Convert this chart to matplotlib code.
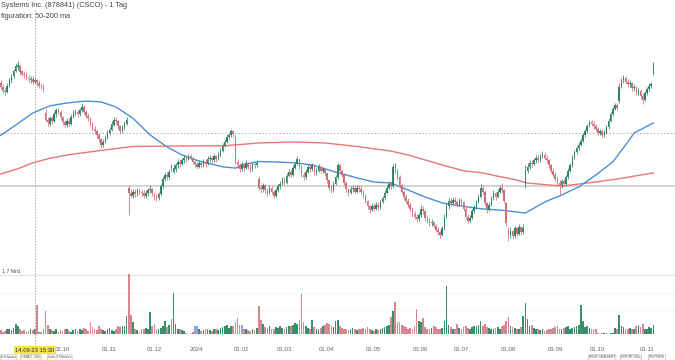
import matplotlib
matplotlib.use('Agg')
import matplotlib.pyplot as plt
import matplotlib.transforms as mtransforms
from matplotlib.lines import Line2D
import pandas as pd
import numpy as np

plt.rcParams['font.family'] = ['Liberation Sans', 'DejaVu Sans']

# ---------------- data ----------------
title_line1 = "Systems Inc. (878841) (CSCO) - 1 Tag"
title_line2 = "figuration: 50-200 ma"

start_date = "2023-08-23"
end_date = "2024-11-08"
holidays = ["2023-09-04", "2023-11-23", "2023-12-25", "2024-01-01", "2024-01-15",
            "2024-02-19", "2024-03-29", "2024-05-27", "2024-06-19", "2024-07-04",
            "2024-09-02"]

opens = [
    56.6, 56.3, 56.0, 55.9, 56.4, 56.8, 57.1, 57.5, 57.8, 57.9,
    57.5, 57.3, 57.2, 57.0, 56.8, 56.9, 56.7, 56.8, 56.6, 56.4,
    56.3, 54.3, 53.8, 53.5, 53.9, 53.7, 54.2, 54.5, 54.4, 54.0,
    53.6, 53.4, 53.7, 53.5, 54.0, 54.3, 54.4, 54.2, 54.5, 54.8,
    54.4, 54.1, 53.9, 53.5, 53.1, 52.9, 52.6, 52.3, 51.9, 52.1,
    52.4, 52.8, 53.0, 53.4, 53.8, 53.7, 53.3, 52.9, 53.2, 53.5,
    48.6, 48.2, 48.0, 48.3, 48.1, 48.4, 48.3, 48.2, 48.0, 48.2,
    48.4, 48.5, 48.2, 47.9, 47.8, 48.1, 48.7, 49.3, 49.6, 49.4,
    50.3, 49.8, 50.0, 50.3, 50.6, 50.4, 50.7, 50.9, 50.8, 51.0,
    50.8, 50.6, 50.4, 50.2, 50.5, 50.3, 50.6, 50.4, 50.8, 50.9,
    50.7, 51.0, 50.8, 51.1, 51.4, 51.8, 52.1, 52.5, 52.6, 52.9,
    52.5, 50.6, 50.3, 50.0, 50.4, 50.1, 50.5, 50.2, 50.0, 50.4,
    50.3, 49.3, 48.6, 48.5, 48.8, 48.4, 48.2, 48.6, 48.3, 48.0,
    48.4, 48.7, 48.9, 49.2, 49.0, 49.5, 49.8, 49.6, 50.1, 50.4,
    50.8, 50.2, 49.6, 49.4, 49.8, 50.2, 50.0, 50.3, 49.8, 49.9,
    50.2, 49.9, 50.0, 49.7, 49.2, 48.6, 48.4, 48.9, 49.4, 50.3,
    49.9, 49.6, 49.0, 48.5, 48.2, 48.5, 48.6, 48.3, 48.6, 48.5,
    48.3, 48.0, 47.6, 47.2, 46.9, 47.2, 47.0, 47.3, 47.1, 47.5,
    47.8, 48.2, 48.6, 48.9, 48.7, 50.4, 49.9, 49.4, 48.8, 48.3,
    47.9, 47.6, 47.3, 47.0, 46.6, 46.4, 46.2, 46.5, 47.0, 46.8,
    46.3, 46.1, 45.9, 46.0, 45.7, 45.4, 45.2, 45.0, 45.5, 46.4,
    47.2, 47.6, 47.4, 47.7, 47.5, 47.3, 47.6, 47.5, 47.0, 46.4,
    46.1, 46.3, 46.8, 47.1, 47.5, 47.9, 48.6, 48.3, 47.4, 46.9,
    47.3, 47.8, 48.2, 47.9, 48.3, 48.6, 48.4, 47.4, 45.3, 45.0,
    45.3, 44.9, 45.5, 45.1, 45.6, 45.2, 48.9, 49.9, 50.2, 50.5,
    50.4, 50.7, 50.9, 50.7, 51.0, 51.1, 50.9, 50.7, 50.3, 49.9,
    49.6, 49.3, 49.0, 48.8, 49.1, 48.9, 49.4, 49.9, 50.3, 50.9,
    51.3, 51.6, 51.9, 52.2, 52.6, 52.9, 53.3, 53.6, 53.5, 53.3,
    53.1, 52.8, 52.9, 52.6, 52.8, 53.2, 53.7, 54.2, 54.6, 54.9,
    55.2, 56.3, 56.8, 57.0, 56.7, 56.5, 56.6, 56.2, 56.3, 55.9,
    56.0, 55.6, 55.3, 55.8, 56.1, 56.4, 57.3,
]

closes = [
    56.3, 56.0, 55.9, 56.4, 56.8, 57.1, 57.5, 57.9, 58.0, 57.4,
    57.3, 57.2, 57.0, 56.9, 56.9, 56.7, 56.8, 56.6, 56.4, 56.3,
    56.1, 53.8, 53.6, 53.9, 53.7, 54.2, 54.5, 54.4, 54.0, 53.6,
    53.4, 53.7, 53.5, 54.0, 54.3, 54.4, 54.2, 54.5, 54.8, 54.4,
    54.1, 53.9, 53.5, 53.1, 52.9, 52.6, 52.3, 51.9, 52.1, 52.4,
    52.8, 53.0, 53.5, 53.8, 53.7, 53.3, 52.9, 53.2, 53.5, 53.8,
    48.2, 48.0, 48.3, 48.1, 48.4, 48.3, 48.2, 48.0, 48.2, 48.4,
    48.5, 48.2, 47.9, 47.8, 48.1, 48.7, 49.3, 49.6, 49.4, 49.8,
    50.0, 50.1, 50.3, 50.6, 50.4, 50.7, 50.9, 50.8, 51.0, 50.9,
    50.6, 50.4, 50.2, 50.5, 50.3, 50.6, 50.4, 50.8, 50.9, 50.7,
    51.0, 50.8, 51.1, 51.4, 51.8, 52.1, 52.5, 52.6, 52.9, 52.7,
    50.6, 50.3, 50.0, 50.4, 50.1, 50.5, 50.2, 50.0, 50.4, 50.3,
    50.5, 48.6, 48.5, 48.8, 48.4, 48.2, 48.6, 48.3, 48.0, 48.4,
    48.7, 48.9, 49.2, 49.0, 49.5, 49.8, 49.6, 50.1, 50.4, 50.8,
    50.2, 49.6, 49.4, 49.8, 50.2, 50.0, 50.3, 49.8, 49.9, 50.2,
    49.9, 50.0, 49.7, 49.2, 48.6, 48.4, 48.9, 49.4, 50.3, 49.9,
    49.6, 49.0, 48.5, 48.2, 48.5, 48.6, 48.3, 48.6, 48.5, 48.3,
    48.0, 47.6, 47.2, 46.9, 47.2, 47.0, 47.3, 47.1, 47.5, 47.8,
    48.2, 48.6, 48.9, 48.7, 50.2, 49.9, 49.4, 48.8, 48.3, 47.9,
    47.6, 47.3, 47.0, 46.6, 46.4, 46.2, 46.5, 47.0, 46.8, 46.3,
    46.1, 45.9, 46.0, 45.7, 45.4, 45.2, 45.0, 45.5, 46.4, 47.2,
    47.6, 47.4, 47.7, 47.5, 47.3, 47.6, 47.5, 47.0, 46.4, 46.1,
    46.3, 46.8, 47.1, 47.5, 47.9, 48.6, 48.3, 47.4, 46.9, 47.3,
    47.8, 48.2, 47.9, 48.3, 48.6, 48.4, 47.6, 45.9, 45.0, 45.3,
    44.9, 45.5, 45.1, 45.6, 45.2, 45.5, 49.9, 50.2, 50.5, 50.4,
    50.7, 50.9, 50.7, 51.0, 51.1, 50.9, 50.7, 50.3, 49.9, 49.6,
    49.3, 49.0, 48.8, 49.1, 48.9, 49.4, 49.9, 50.3, 50.9, 51.3,
    51.6, 51.9, 52.2, 52.6, 52.9, 53.3, 53.6, 53.5, 53.3, 53.1,
    52.8, 52.9, 52.6, 52.8, 53.2, 53.7, 54.2, 54.6, 54.9, 54.7,
    56.3, 56.8, 57.0, 56.7, 56.5, 56.6, 56.2, 56.3, 55.9, 56.0,
    55.6, 55.3, 55.8, 56.1, 56.4, 56.5, 58.0,
]

highs = [
    56.8, 56.5, 56.2, 56.6, 57.0, 57.3, 57.7, 58.1, 58.3, 58.0,
    57.6, 57.5, 57.4, 57.2, 57.1, 57.1, 57.0, 56.9, 56.8, 56.6,
    56.5, 54.6, 54.0, 54.1, 54.1, 54.4, 54.7, 54.7, 54.5, 54.1,
    53.8, 53.9, 53.9, 54.2, 54.5, 54.6, 54.6, 54.7, 55.1, 54.9,
    54.5, 54.3, 54.0, 53.6, 53.3, 53.1, 52.8, 52.4, 52.3, 52.6,
    53.0, 53.2, 53.7, 54.0, 54.0, 53.8, 53.4, 53.4, 53.7, 54.0,
    48.8, 48.5, 48.5, 48.5, 48.6, 48.6, 48.4, 48.4, 48.4, 48.6,
    48.8, 48.6, 48.3, 48.1, 48.3, 48.9, 49.5, 49.8, 49.8, 50.0,
    50.4, 50.4, 50.5, 50.8, 50.8, 50.9, 51.1, 51.0, 51.2, 51.2,
    51.0, 50.8, 50.6, 50.7, 50.7, 50.8, 50.8, 51.0, 51.1, 51.0,
    51.2, 51.1, 51.3, 51.6, 52.0, 52.3, 52.7, 52.8, 53.1, 53.0,
    52.6, 50.8, 50.5, 50.6, 50.5, 50.7, 50.6, 50.4, 50.6, 50.6,
    50.7, 49.5, 48.8, 49.0, 48.9, 48.6, 48.8, 48.7, 48.4, 48.6,
    48.9, 49.1, 49.4, 49.4, 49.7, 50.0, 50.0, 50.3, 50.6, 51.0,
    50.9, 50.3, 49.8, 50.0, 50.4, 50.4, 50.5, 50.4, 50.1, 50.4,
    50.3, 50.2, 50.1, 49.8, 49.3, 48.8, 49.1, 49.6, 50.5, 50.4,
    50.0, 49.7, 49.1, 48.6, 48.7, 48.8, 48.7, 48.8, 48.8, 48.7,
    48.4, 48.1, 47.7, 47.3, 47.4, 47.4, 47.5, 47.5, 47.7, 48.0,
    48.4, 48.8, 49.1, 49.1, 50.4, 50.5, 50.0, 49.6, 48.9, 48.4,
    48.1, 47.8, 47.5, 47.1, 46.8, 46.6, 46.7, 47.3, 47.2, 46.9,
    46.5, 46.3, 46.2, 46.1, 45.8, 45.6, 45.4, 45.7, 46.6, 47.4,
    47.8, 47.8, 47.9, 47.9, 47.7, 47.8, 47.8, 47.6, 47.1, 46.6,
    46.5, 47.0, 47.3, 47.7, 48.1, 48.9, 48.7, 48.4, 47.5, 47.5,
    48.0, 48.4, 48.3, 48.5, 48.8, 49.0, 48.5, 47.5, 45.6, 45.6,
    45.4, 45.7, 45.6, 45.8, 45.7, 45.8, 50.3, 50.5, 50.7, 50.7,
    50.9, 51.1, 51.1, 51.2, 51.4, 51.3, 51.1, 50.8, 50.4, 50.1,
    49.8, 49.5, 49.2, 49.3, 49.3, 49.6, 50.1, 50.5, 51.1, 51.5,
    51.8, 52.1, 52.4, 52.8, 53.1, 53.5, 53.8, 53.8, 53.7, 53.5,
    53.2, 53.1, 53.0, 53.0, 53.4, 53.9, 54.4, 54.8, 55.1, 55.1,
    56.6, 57.0, 57.2, 57.1, 56.9, 56.8, 56.7, 56.5, 56.4, 56.2,
    56.1, 55.8, 56.0, 56.3, 56.6, 56.7, 58.2,
]

lows = [
    56.1, 55.8, 55.6, 55.8, 56.3, 56.6, 57.0, 57.4, 57.6, 57.2,
    57.1, 57.0, 56.8, 56.7, 56.6, 56.5, 56.5, 56.4, 56.2, 56.1,
    55.9, 53.6, 53.3, 53.3, 53.5, 53.6, 54.0, 54.2, 53.8, 53.4,
    53.2, 53.2, 53.3, 53.4, 53.9, 54.1, 54.0, 54.1, 54.4, 54.2,
    53.9, 53.7, 53.3, 52.9, 52.7, 52.4, 52.1, 51.6, 51.7, 52.0,
    52.3, 52.6, 52.9, 53.3, 53.5, 53.1, 52.7, 52.8, 53.0, 53.4,
    46.5, 47.8, 47.8, 47.9, 48.0, 48.1, 48.0, 47.8, 47.8, 48.0,
    48.2, 48.0, 47.7, 47.6, 47.7, 48.0, 48.6, 49.1, 49.2, 49.3,
    49.8, 49.7, 49.8, 50.1, 50.2, 50.3, 50.5, 50.6, 50.7, 50.7,
    50.4, 50.2, 50.0, 50.1, 50.1, 50.2, 50.2, 50.3, 50.6, 50.5,
    50.6, 50.6, 50.7, 51.0, 51.3, 51.7, 52.0, 52.3, 52.5, 52.5,
    50.4, 50.1, 49.8, 49.9, 49.9, 50.0, 50.0, 49.8, 49.9, 50.1,
    50.2, 48.4, 48.2, 48.3, 48.2, 48.0, 48.1, 48.1, 47.8, 47.9,
    48.3, 48.5, 48.8, 48.8, 48.9, 49.4, 49.4, 49.5, 50.0, 50.3,
    50.0, 49.4, 49.2, 49.3, 49.7, 49.8, 49.9, 49.6, 49.6, 49.8,
    49.7, 49.7, 49.5, 49.0, 48.4, 48.2, 48.3, 48.8, 49.3, 49.7,
    49.4, 48.8, 48.3, 48.0, 48.1, 48.3, 48.1, 48.2, 48.3, 48.1,
    47.8, 47.4, 47.0, 46.7, 46.8, 46.8, 46.9, 46.9, 47.0, 47.4,
    47.7, 48.1, 48.5, 48.5, 48.6, 49.7, 49.2, 48.6, 48.1, 47.7,
    47.4, 47.1, 46.8, 46.4, 46.2, 46.0, 46.1, 46.4, 46.6, 46.1,
    45.9, 45.7, 45.7, 45.5, 45.2, 45.0, 44.8, 44.9, 45.4, 46.3,
    47.0, 47.2, 47.3, 47.3, 47.1, 47.2, 47.3, 46.8, 46.2, 45.9,
    45.9, 46.2, 46.7, 47.0, 47.4, 47.8, 48.1, 47.2, 46.7, 46.8,
    47.2, 47.7, 47.7, 47.8, 48.2, 48.2, 47.4, 45.7, 44.5, 44.8,
    44.7, 44.8, 44.9, 45.0, 45.0, 45.1, 48.6, 49.7, 50.0, 50.2,
    50.3, 50.5, 50.5, 50.6, 50.9, 50.7, 50.5, 50.1, 49.7, 49.4,
    49.1, 48.8, 48.0, 48.6, 48.7, 48.8, 49.3, 49.8, 50.2, 50.8,
    51.2, 51.5, 51.8, 52.1, 52.5, 52.8, 53.2, 53.3, 53.1, 52.9,
    52.6, 52.6, 52.4, 52.5, 52.7, 53.1, 53.6, 54.1, 54.5, 54.5,
    55.1, 56.2, 56.6, 56.5, 56.3, 56.3, 56.0, 56.0, 55.7, 55.7,
    55.4, 55.0, 55.2, 55.7, 56.0, 56.2, 57.2,
]

volumes = [  # millions
    17, 15, 16, 18, 19, 17, 20, 25, 22, 18,
    16, 17, 15, 16, 19, 17, 18, 50, 15, 14,
    18, 42, 24, 19, 17, 16, 18, 15, 17, 16,
    19, 18, 16, 15, 17, 18, 16, 19, 17, 20,
    18, 16, 27, 21, 18, 17, 22, 19, 17, 16,
    18, 20, 17, 16, 19, 22, 21, 23, 22, 36,
    90, 37, 28, 19, 17, 14, 18, 19, 20, 18,
    41, 22, 25, 19, 18, 20, 22, 29, 21, 24,
    31, 65, 25, 19, 18, 17, 16, 13, 12.5, 12.8,
    15, 22, 22, 18, 16, 17, 19, 18, 17, 16,
    18, 19, 17, 20, 21, 22, 24, 20, 23, 22,
    28, 33, 24, 24, 19, 18, 17, 16, 18, 17,
    20, 48, 30, 25, 21, 20, 22, 19, 18, 21,
    20, 22, 20, 19, 21, 23, 22, 24, 26, 25,
    30, 64, 28, 22, 20, 19, 30, 21, 19, 18,
    20, 22, 24, 26, 25, 22, 21, 29, 30, 22,
    20, 19, 18, 17, 19, 20, 18, 17, 19, 18,
    20, 19, 21, 18, 17, 16, 18, 17, 19, 20,
    21, 23, 24, 34, 42, 54, 28, 28, 24, 22,
    21, 19, 20, 18, 22, 45, 29, 27, 33, 21,
    19, 18, 20, 22, 21, 19, 18, 20, 29, 75,
    24, 21, 19, 18, 25, 20, 19, 21, 22, 20,
    19, 21, 23, 22, 24, 29, 22, 25, 21, 20,
    19, 18, 20, 21, 19, 23, 24, 29, 34, 22,
    21, 20, 19, 18, 21, 35, 52, 31, 22, 24,
    20, 19, 18, 17, 18, 16, 17, 18, 19, 20,
    21, 22, 19, 18, 20, 21, 22, 19, 20, 21,
    23, 24, 50, 29, 21, 22, 20, 19, 18, 19,
    13, 12.6, 13, 12.8, 13.2, 12.5, 13, 13.5, 20, 19,
    37, 22, 21, 19, 18, 20, 19, 18, 22, 24,
    21, 25, 19, 18, 21, 20, 24,
]
highlight_volume_idx = [91, 92, 112, 113]

# moving averages (candle index, price)
ma50_idx = [0, 8, 15, 23, 31, 40, 47, 54, 62, 70, 78, 85, 93, 104, 110, 116, 121,
            129, 138, 146, 157, 167, 175, 183, 191, 199, 207, 219, 226, 234, 242,
            246, 255, 263, 271, 279, 287, 294, 297, 306]
ma50_val = [52.6, 53.5, 54.3, 54.85, 55.07, 55.22, 55.15, 54.77, 53.9, 52.63, 51.71,
            51.1, 50.64, 50.2, 50.1, 50.45, 50.6, 50.57, 50.5, 50.34, 49.8, 49.35,
            49.04, 48.96, 48.43, 47.89, 47.44, 47.13, 46.98, 46.9, 46.75, 46.67,
            47.51, 48.05, 48.66, 49.57, 50.57, 52.09, 52.78, 53.54]
ma200_idx = [0, 8, 15, 23, 31, 47, 62, 78, 93, 105, 121, 137, 152, 167, 183, 191,
             199, 207, 217, 226, 234, 242, 247, 263, 279, 289, 306]
ma200_val = [49.65, 50.05, 50.5, 50.85, 51.1, 51.45, 51.75, 51.78, 51.8, 51.8, 52.02,
             52.09, 52.02, 51.75, 51.4, 51.1, 50.72, 50.34, 49.9, 49.73, 49.45, 49.19,
             48.96, 48.73, 49.04, 49.27, 49.73]

level_dotted = 52.8
level_solid = 48.7
volume_grid_level = 88.7
volume_grid_label = "1.7 Mrd."

tick_dates = ["2023-10-02", "2023-11-01", "2023-12-01", "2024-01-02", "2024-02-01",
              "2024-03-01", "2024-04-01", "2024-05-01", "2024-06-03", "2024-07-01",
              "2024-08-01", "2024-09-03", "2024-10-01", "2024-11-01"]
tick_labels = ["02.10", "01.11", "01.12", "2024", "01.02", "01.03", "01.04", "01.05",
               "03.06", "01.07", "01.08", "03.09", "01.10", "01.11"]
crosshair_idx = 16
crosshair_label = "14.09.23 15:30"

left_buttons = ["& Schwarz \u25be", "5 SMA 5 - 2fdl \u25be", "Linear & Schwarz \u25be"]
right_buttons = ["NICHT GESICHERT", "EXPORT GDI \u25b8", "SPLITTERN"]

# ---------------- derived ----------------
dates = pd.bdate_range(start_date, end_date)
dates = dates[~dates.isin(pd.to_datetime(holidays))]
n = len(closes)
idx = np.arange(n)
date_pos = {d.strftime("%Y-%m-%d"): i for i, d in enumerate(dates)}

o = np.array(opens[:n]); c = np.array(closes); h = np.array(highs[:n]); l = np.array(lows[:n])
vol = np.array(volumes[:n])
up = c >= o

GREEN = '#2f8563'
RED = '#cf6e7a'
VGREEN = '#3a8e6c'
VRED = '#d88690'
VBLUE = '#93a3e6'

W, H = 675, 360
fig = plt.figure(figsize=(W / 100, H / 100), dpi=100)
fig.patch.set_facecolor('white')

def fy(py):
    return 1 - py / H

ax_p = fig.add_axes([0, fy(258), 1, (258 - 22) / H])
ax_v = fig.add_axes([0, fy(334), 1, (334 - 262) / H])

xmin = -0.8 / 2.1325
xmax = (W - 0.8) / 2.1325
for ax in (ax_p, ax_v):
    ax.set_xlim(xmin, xmax)
    ax.axis('off')
    ax.patch.set_alpha(0)

ax_p.set_ylim(43.24, 61.25)
ax_v.set_ylim(12, 105.6)

# reference levels
ax_p.axhline(level_solid, color='#d4d4d4', lw=1.4, zorder=1)
ax_p.axhline(level_dotted, color='#b0b0b0', lw=0.7, ls=(0, (1.5, 2)), zorder=1)

# moving averages
ax_p.plot(ma200_idx, ma200_val, color='#ec7672', lw=1.0, zorder=2)
ax_p.plot(ma50_idx, ma50_val, color='#4b8fd6', lw=1.0, zorder=2)

# candles
cols = np.where(up, GREEN, RED)
ax_p.vlines(idx, l, h, colors=cols, lw=0.55, zorder=3)
body_bottom = np.minimum(o, c)
body_h = np.maximum(np.abs(c - o), 0.05)
ax_p.bar(idx, body_h, bottom=body_bottom, width=0.72, color=cols, lw=0, zorder=4)

# volume
vcols = np.where(up, VGREEN, VRED).astype(object)
for k in highlight_volume_idx:
    vcols[k] = VBLUE
ax_v.bar(idx, vol, width=0.78, color=list(vcols), lw=0, zorder=3)
ax_v.axhline(volume_grid_level, color='#e2e2e2', lw=0.8, zorder=1)
for lvl in (65.3, 43.2):
    ax_v.axhline(lvl, color='#f4f4f4', lw=0.6, zorder=1)
ax_v.text(0.003, volume_grid_level + 1.5, volume_grid_label, fontsize=3.8, color='#555555',
          transform=mtransforms.blended_transform_factory(ax_v.transAxes, ax_v.transData),
          ha='left', va='bottom')

# x tick labels
xt = ax_v.get_xaxis_transform()
for d, lab in zip(tick_dates, tick_labels):
    k = date_pos[d]
    ax_v.annotate(lab, xy=(k, 0), xycoords=xt, xytext=(2.9, -11.5),
                  textcoords='offset points', ha='center', va='center',
                  fontsize=4.4, color='#666666')

# crosshair
bt = mtransforms.blended_transform_factory(ax_p.transData, fig.transFigure)
fig.add_artist(Line2D([crosshair_idx, crosshair_idx], [fy(10), fy(346)], transform=bt,
                      color='#aaaaaa', lw=0.7, ls=(0, (1.5, 1.5)), zorder=5))
fig.text(crosshair_idx, fy(350), crosshair_label, transform=bt,
         ha='center', va='center', fontsize=4.2, color='#333333',
         bbox=dict(boxstyle='square,pad=0.2', fc='#f3e53c', ec='none'), zorder=6)

# title
fig.text(0.001, fy(5.5), title_line1, fontsize=5.3, color='#444444', ha='left', va='center')
fig.text(0.001, fy(17), title_line2, fontsize=5.3, color='#444444', ha='left', va='center')

# bottom buttons
left_x = [1, 21, 48]
for b, xp in zip(left_buttons, left_x):
    fig.text(xp / W, fy(357.5), b, fontsize=2.0, color='#444444', ha='left', va='center',
             bbox=dict(boxstyle='round,pad=0.25,rounding_size=0.3', fc='white', ec='#bbbbbb', lw=0.5))
right_x = [589, 621, 649]
for b, xp in zip(right_buttons, right_x):
    fig.text(xp / W, fy(357.5), b, fontsize=2.1, color='#444444', ha='left', va='center',
             bbox=dict(boxstyle='round,pad=0.25,rounding_size=0.3', fc='white', ec='#bbbbbb', lw=0.5))

fig.savefig('out.png', dpi=100, facecolor='white')
